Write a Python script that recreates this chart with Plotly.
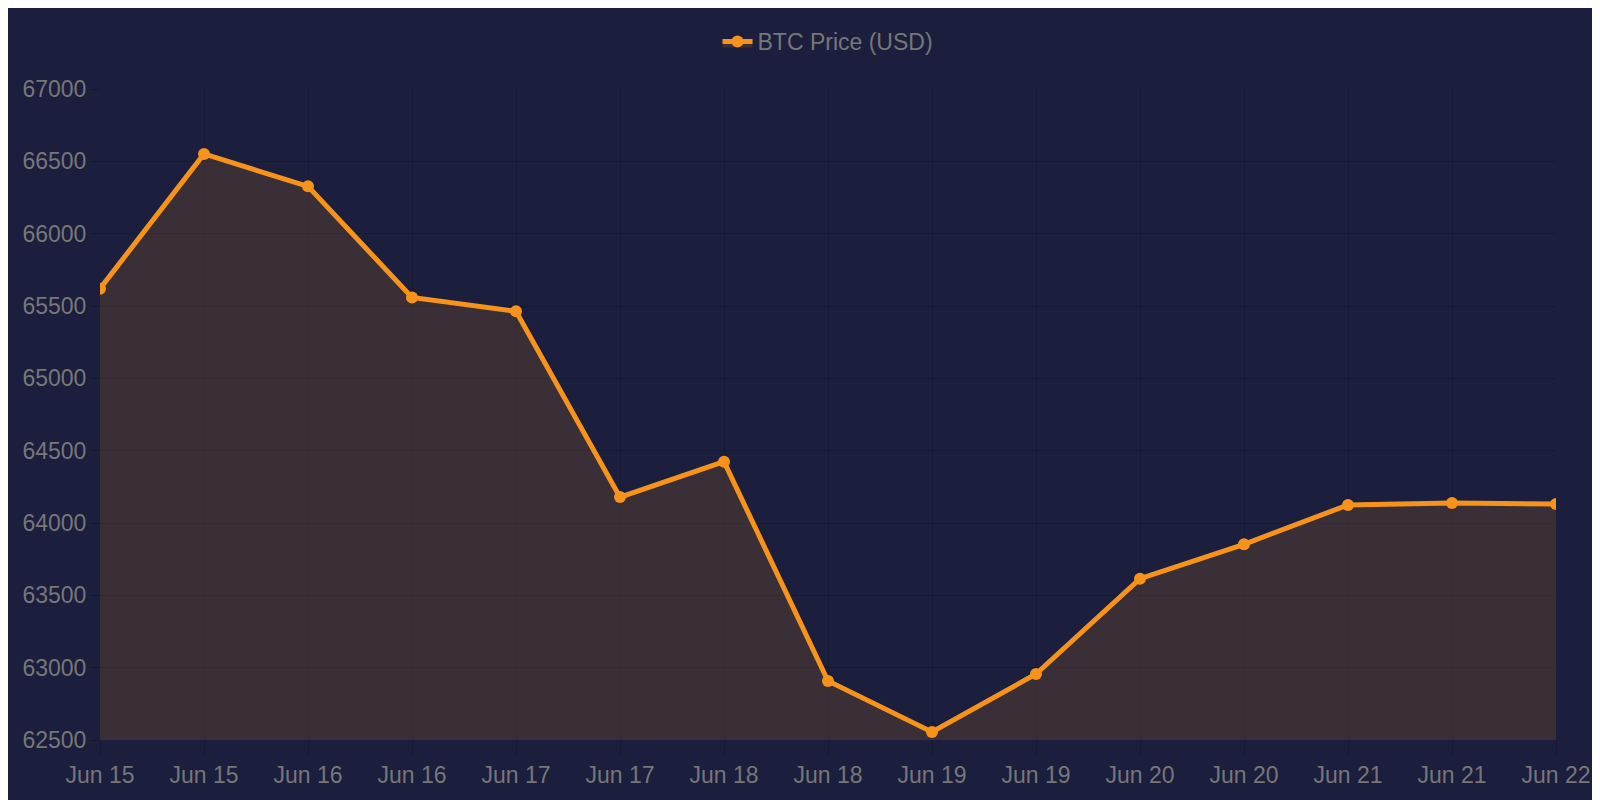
import plotly.graph_objects as go

labels = ["Jun 15", "Jun 15", "Jun 16", "Jun 16", "Jun 17", "Jun 17", "Jun 18", "Jun 18",
          "Jun 19", "Jun 19", "Jun 20", "Jun 20", "Jun 21", "Jun 21", "Jun 22"]
prices = [65620, 66551, 66327, 65559, 65464, 64179, 64424, 62908,
          62555, 62956, 63615, 63853, 64125, 64138, 64132]
idx = list(range(len(labels)))

fig = go.Figure(go.Scatter(
    x=idx, y=prices, mode="lines+markers", name="BTC Price (USD)",
    line=dict(color="#f7931a", width=5),
    marker=dict(size=12, color="#f7931a"),
    fill="tozeroy", fillcolor="rgba(247,147,26,0.15)",
))

fig.update_layout(
    width=1600, height=800,
    paper_bgcolor="#1b1e3d", plot_bgcolor="#1b1e3d",
    margin=dict(l=92, r=52, t=56, b=68),
    font=dict(family="Liberation Sans, Arial", size=23, color="#777777"),
    showlegend=True,
    legend=dict(orientation="h", x=0.5, xanchor="center", y=1.04, yanchor="bottom",
                font=dict(size=23, color="#777777")),
)
fig.update_xaxes(tickvals=idx, ticktext=labels, range=[0, 14],
                 showgrid=True, gridcolor="rgba(0,0,0,0.15)", zeroline=False,
                 ticks="outside", ticklen=14, tickcolor="rgba(0,0,0,0.2)")
fig.update_yaxes(range=[62500, 67000], dtick=500, tickformat="d",
                 showgrid=True, gridcolor="rgba(0,0,0,0.15)", zeroline=False,
                 ticks="outside", ticklen=8, tickcolor="rgba(0,0,0,0.2)")

fig.write_html("out.html")
